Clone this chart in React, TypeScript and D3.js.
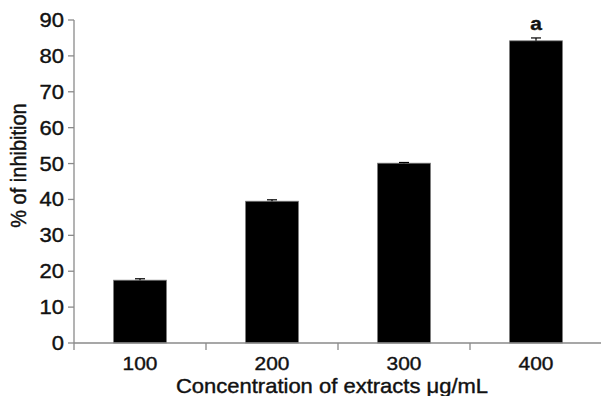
import { scaleBand, scaleLinear } from "d3";

const categories = ["100", "200", "300", "400"];
const values = [17.5, 39.5, 50.1, 84.2];
const errors = [0.4, 0.4, 0.2, 0.8];
const labels = ["", "", "", "a"];
const yTicks = [0, 10, 20, 30, 40, 50, 60, 70, 80, 90];

const width = 601;
const height = 396;
const left = 74;
const right = 602;
const top = 20;
const bottom = 343;

const x = scaleBand().domain(categories).range([left, right]).paddingInner(0.6).paddingOuter(0.3);
const y = scaleLinear().domain([0, 90]).range([bottom, top]);

const axisColor = "#8a8a8a";
const font = "Liberation Sans, Arial, Helvetica, sans-serif";
// the source image is slightly stretched sideways and its text is heavy
const stretch = 1.1;
const textStyle = { fontFamily: font, fill: "#111", stroke: "#111", strokeWidth: 0.4 };

const at = (px: number, py: number) => `translate(${px},${py}) scale(${stretch},1)`;

const App = () => {
  const step = x.step();
  return (
    <svg width={width} height={height} style={{ position: "absolute", left: 0, top: 0 }}>
      <rect width={width} height={height} fill="#fff" />
      {categories.map((c, i) => (
        <rect
          key={c}
          x={x(c)}
          y={y(values[i])}
          width={x.bandwidth()}
          height={bottom - y(values[i])}
          fill="#000"
          stroke="#777"
          strokeWidth={0.8}
        />
      ))}
      {/* error bars */}
      {categories.map((c, i) => {
        const cx = x(c)! + x.bandwidth() / 2;
        const yTop = y(values[i] + errors[i]);
        return (
          <g key={"e" + c} stroke="#000" strokeWidth={1.2}>
            <line x1={cx} x2={cx} y1={y(values[i])} y2={yTop} />
            <line x1={cx - 5} x2={cx + 5} y1={yTop} y2={yTop} />
          </g>
        );
      })}
      {categories.map((c, i) => (
        <text
          key={"l" + c}
          transform={at(x(c)! + x.bandwidth() / 2, y(values[i] + errors[i]) - 8)}
          textAnchor="middle"
          fontWeight="bold"
          fontSize={19}
          style={textStyle}
        >
          {labels[i]}
        </text>
      ))}
      {/* y axis */}
      <line x1={left} x2={left} y1={top} y2={bottom + 7} stroke={axisColor} strokeWidth={1.3} />
      {yTicks.map((t) => (
        <g key={t}>
          <line x1={left - 6} x2={left} y1={y(t)} y2={y(t)} stroke={axisColor} strokeWidth={1.3} />
          <text transform={at(left - 10, y(t) + 7)} textAnchor="end" fontSize={20} style={textStyle}>
            {t}
          </text>
        </g>
      ))}
      {/* x axis */}
      <line x1={left} x2={right} y1={bottom} y2={bottom} stroke={axisColor} strokeWidth={1.3} />
      {categories.map((c, i) => (
        <line
          key={"t" + c}
          x1={left + step * (i + 1)}
          x2={left + step * (i + 1)}
          y1={bottom}
          y2={bottom + 7}
          stroke={axisColor}
          strokeWidth={1.3}
        />
      ))}
      {categories.map((c) => (
        <text
          key={"x" + c}
          transform={at(x(c)! + x.bandwidth() / 2, 370)}
          textAnchor="middle"
          fontSize={19}
          style={textStyle}
        >
          {c}
        </text>
      ))}
      <text transform={at(332, 393)} textAnchor="middle" fontSize={20} style={textStyle}>
        Concentration of extracts μg/mL
      </text>
      <text
        transform={`translate(26,${(top + bottom) / 2 - 16}) rotate(-90) scale(1,${stretch})`}
        textAnchor="middle"
        fontSize={20}
        style={textStyle}
      >
        % of inhibition
      </text>
    </svg>
  );
};

export default App;
